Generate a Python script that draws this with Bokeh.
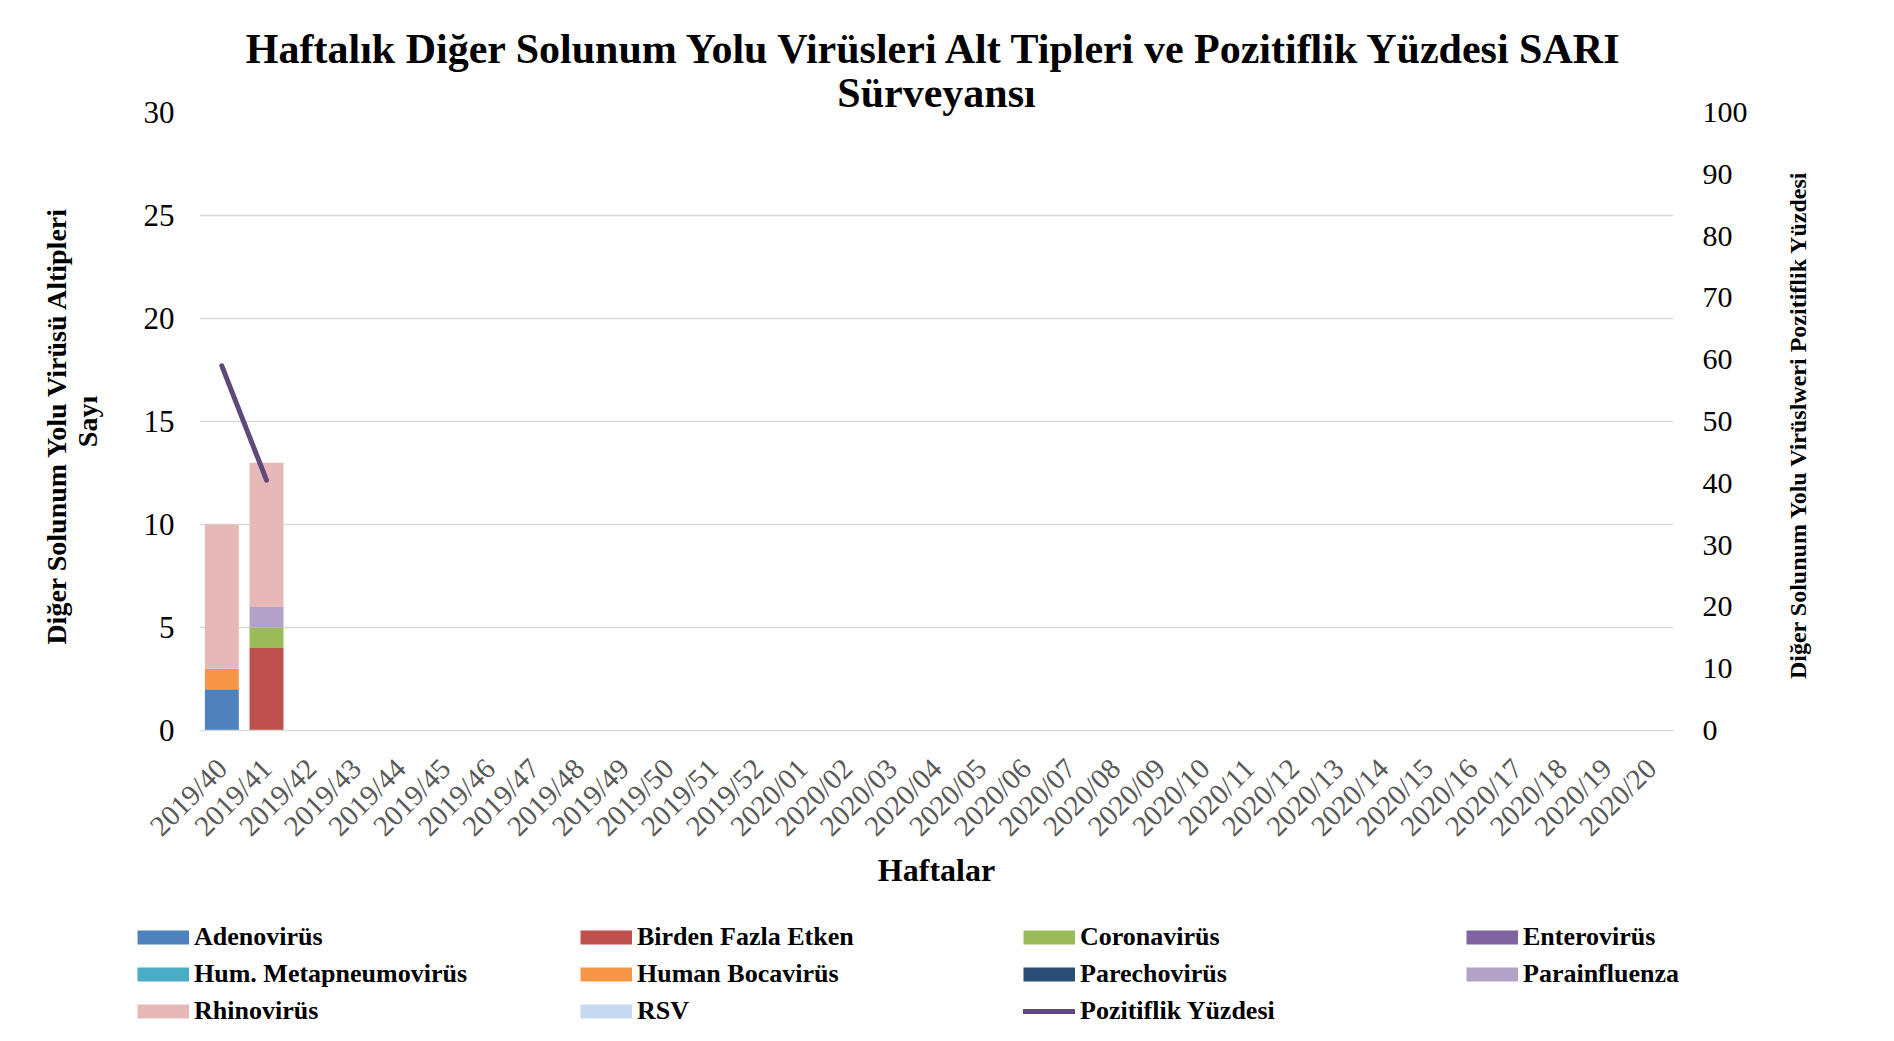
import math
from bokeh.plotting import figure
from bokeh.layouts import row
from bokeh.models import (FactorRange, Range1d, LinearAxis, Legend, LegendItem,
                          Title, ColumnDataSource, SingleIntervalTicker, FixedTicker)
from bokeh.embed import file_html
from bokeh.resources import INLINE

# ---------------- data ----------------
weeks = ["2019/40", "2019/41", "2019/42", "2019/43", "2019/44", "2019/45", "2019/46",
         "2019/47", "2019/48", "2019/49", "2019/50", "2019/51", "2019/52",
         "2020/01", "2020/02", "2020/03", "2020/04", "2020/05", "2020/06", "2020/07",
         "2020/08", "2020/09", "2020/10", "2020/11", "2020/12", "2020/13", "2020/14",
         "2020/15", "2020/16", "2020/17", "2020/18", "2020/19", "2020/20"]

series_names = ["Adenovirüs", "Birden Fazla Etken", "Coronavirüs", "Enterovirüs",
                "Hum. Metapneumovirüs", "Human Bocavirüs", "Parechovirüs",
                "Parainfluenza", "Rhinovirüs", "RSV"]
series_colors = ["#4f81bd", "#c0504d", "#9bbb59", "#8064a2", "#4bacc6",
                 "#f79646", "#2c4d75", "#b3a2c7", "#e6b9b8", "#c6d9f1"]

bar_weeks = ["2019/40", "2019/41"]
adenovirus = [2, 0]
birden_fazla_etken = [0, 4]
coronavirus = [0, 1]
enterovirus = [0, 0]
hum_metapneumovirus = [0, 0]
human_bocavirus = [1, 0]
parechovirus = [0, 0]
parainfluenza = [0, 1]
rhinovirus = [7, 7]
rsv = [0, 0]

pct_weeks = ["2019/40", "2019/41"]
pct_values = [59.0, 40.5]
pct_name = "Pozitiflik Yüzdesi"
pct_color = "#5f497a"

left_ticks_interval = 5
right_ticks_interval = 10

title_line1 = "Haftalık Diğer Solunum Yolu Virüsleri Alt Tipleri ve Pozitiflik Yüzdesi SARI"
title_line2 = "Sürveyansı"
left_title = "Diğer Solunum Yolu Virüsü  Altipleri\nSayı"
right_title = "Diğer Solunum Yolu Virüslweri Pozitiflik  Yüzdesi"
x_title = "Haftalar"

SERIF = "Liberation Serif"

# ---------------- main chart ----------------
p = figure(x_range=FactorRange(factors=weeks), y_range=Range1d(0, 30),
           width=1751, height=905, output_backend="svg", toolbar_location=None,
           min_border_left=199, min_border_right=78, min_border_top=112,
           min_border_bottom=175, outline_line_color=None)
p.extra_y_ranges = {"pct": Range1d(0, 100)}

p.title.text = title_line1
p.title.align = "center"
p.title.text_font = SERIF
p.title.text_font_style = "bold"
p.title.text_font_size = "42px"
p.title.text_color = "black"
p.title.standoff = -2
p.title.offset = 8
sub = Title(text=title_line2, align="center", text_font=SERIF, text_font_style="bold",
            text_font_size="42px", text_color="black", standoff=-6, offset=8)
p.add_layout(sub, "above")

keys = ["s%d" % i for i in range(len(series_names))]
values = [adenovirus, birden_fazla_etken, coronavirus, enterovirus, hum_metapneumovirus,
          human_bocavirus, parechovirus, parainfluenza, rhinovirus, rsv]
data = {"week": bar_weeks}
for k, v in zip(keys, values):
    data[k] = v
src = ColumnDataSource(data)
p.vbar_stack(keys, x="week", width=0.76, fill_color=series_colors, line_color=None,
             source=src)

pct_src = ColumnDataSource(dict(week=pct_weeks, pct=pct_values))
p.line(x="week", y="pct", source=pct_src, y_range_name="pct",
       line_color=pct_color, line_width=5, line_cap="round")

p.xgrid.grid_line_color = None
p.ygrid.grid_line_color = "#d9d9d9"
p.ygrid.grid_line_width = 1.5

xa = p.below[0]
xa.major_label_orientation = math.pi / 4
xa.major_label_text_font = SERIF
xa.major_label_text_font_size = "29px"
xa.major_label_text_color = "#595959"
xa.major_label_standoff = 27
xa.major_tick_line_color = None
xa.minor_tick_line_color = None
xa.axis_line_color = "#d9d9d9"
xa.axis_line_width = 1.5
xa.axis_label = x_title
xa.axis_label_text_font = SERIF
xa.axis_label_text_font_style = "bold"
xa.axis_label_text_font_size = "32px"
xa.axis_label_text_color = "black"
xa.axis_label_standoff = -4

ya = p.left[0]
ya.ticker = SingleIntervalTicker(interval=left_ticks_interval, num_minor_ticks=0)
ya.major_label_text_font = SERIF
ya.major_label_text_font_size = "31px"
ya.major_label_text_color = "black"
ya.major_label_standoff = 19
ya.major_tick_line_color = None
ya.minor_tick_line_color = None
ya.axis_line_color = None
ya.axis_label = left_title
ya.axis_label_text_font = SERIF
ya.axis_label_text_font_style = "bold"
ya.axis_label_text_font_size = "28px"
ya.axis_label_text_color = "black"
ya.axis_label_text_line_height = 1.0
ya.axis_label_standoff = 38

ra = LinearAxis(y_range_name="pct",
                ticker=SingleIntervalTicker(interval=right_ticks_interval, num_minor_ticks=0))
ra.major_label_text_font = SERIF
ra.major_label_text_font_size = "30px"
ra.major_label_text_color = "black"
ra.major_label_standoff = 23
ra.major_tick_line_color = None
ra.minor_tick_line_color = None
ra.axis_line_color = None
p.add_layout(ra, "right")

# ---------------- right-hand title strip (bottom-to-top reading title) ----------------
rp = figure(width=129, height=905, output_backend="svg", toolbar_location=None,
            min_border_left=70, min_border_right=0, min_border_top=112,
            min_border_bottom=175, outline_line_color=None,
            x_range=Range1d(0, 1), y_range=Range1d(0, 100))
rp.xaxis.visible = False
rp.grid.visible = False
rya = rp.left[0]
rya.ticker = FixedTicker(ticks=[])
rya.major_label_standoff = 0
rya.major_tick_line_color = None
rya.minor_tick_line_color = None
rya.axis_line_color = None
rya.axis_label = right_title
rya.axis_label_text_font = SERIF
rya.axis_label_text_font_style = "bold"
rya.axis_label_text_font_size = "24px"
rya.axis_label_text_color = "black"
rya.axis_label_standoff = 11

# ---------------- legend strip ----------------
lp = figure(width=1880, height=128, output_backend="svg", toolbar_location=None,
            min_border=0, outline_line_color=None, x_range=Range1d(0, 1),
            y_range=Range1d(0, 1))
lp.axis.visible = False
lp.grid.visible = False

nan = float("nan")
swatch = {}
for name, color in zip(series_names, series_colors):
    swatch[name] = lp.line(x=[nan], y=[nan], line_color=color, line_width=14)
swatch[pct_name] = lp.line(x=[nan], y=[nan], line_color=pct_color, line_width=5,
                           line_cap="round")

order = ["Adenovirüs", "Birden Fazla Etken", "Coronavirüs", "Enterovirüs",
         "Hum. Metapneumovirüs", "Human Bocavirüs", "Parechovirüs", "Parainfluenza",
         "Rhinovirüs", "RSV", pct_name]
items = [LegendItem(label=n, renderers=[swatch[n]]) for n in order]
legend = Legend(items=items, location=(137, 7), orientation="horizontal", ncols=4,
                glyph_width=52, glyph_height=30, label_height=30, label_width=379,
                label_standoff=5, spacing=7, padding=0, margin=0,
                border_line_color=None, background_fill_alpha=0,
                label_text_font=SERIF, label_text_font_style="bold",
                label_text_font_size="26px", label_text_color="black")
lp.add_layout(legend, "center")

open("out.html", "w").write(file_html([row(p, rp), lp], INLINE))
